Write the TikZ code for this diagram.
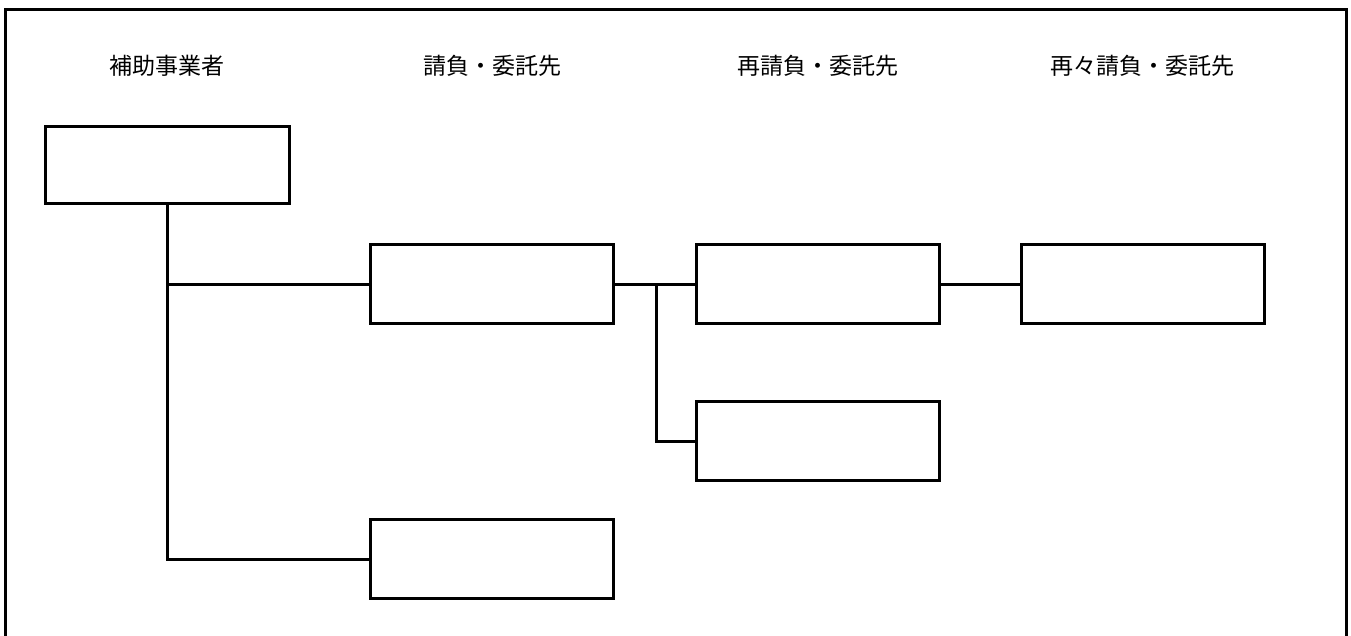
\documentclass[tikz,border=0pt]{standalone}
\usepackage{fontspec}
\newfontfamily\jp{Noto Sans CJK JP}
\begin{document}
\begin{tikzpicture}[x=1pt,y=1pt,line width=3pt,
  blk/.style={draw,rectangle,inner sep=0pt,outer sep=0pt,minimum width=243pt,minimum height=79pt},
  hdr/.style={font=\jp\fontsize{23}{23}\selectfont,inner sep=0pt,anchor=center},
  wire/.style={line width=3pt}]
\useasboundingbox (0,0) rectangle (1351,-635);
\draw (5.5,-636) -- (5.5,-9.5) -- (1346.5,-9.5) -- (1346.5,-636);
\node[hdr] (h1) at (167,-66) {補助事業者};
\node[hdr] (h2) at (492,-66) {請負・委託先};
\node[hdr] (h3) at (817.5,-66) {再請負・委託先};
\node[hdr] (h4) at (1142.5,-66) {再々請負・委託先};
\node[blk,minimum height=77pt,minimum width=244pt] (b1) at (167,-164.5) {};
\node[blk] (b2) at (492,-284) {};
\node[blk] (b3) at (817.5,-284) {};
\node[blk] (b4) at (1142.5,-284) {};
\node[blk] (b5) at (817.5,-441) {};
\node[blk] (b6) at (492,-559) {};
\coordinate (j1) at (b1.south |- b2.west);
\coordinate (j2) at (656,-284);
\draw[wire] (b1.south) -- (b1.south |- b6.west) -- (b6.west);
\draw[wire] (j1) -- (b2.west);
\draw[wire] (b2.east) -- (b3.west);
\draw[wire] (j2) -- (j2 |- b5.west) -- (b5.west);
\draw[wire] (b3.east) -- (b4.west);
\end{tikzpicture}
\end{document}
